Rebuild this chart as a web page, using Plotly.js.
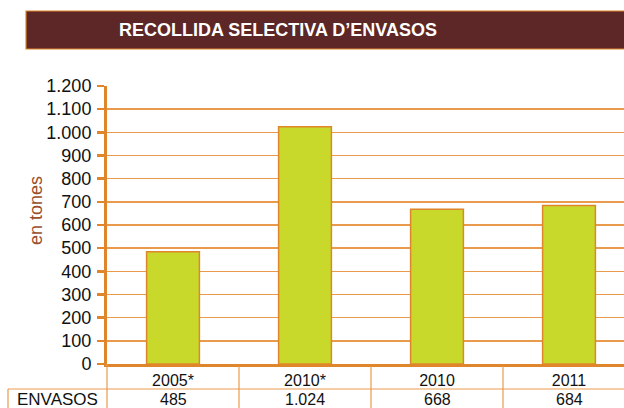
<!DOCTYPE html>
<html>
<head>
<meta charset="utf-8">
<script src="https://cdn.plot.ly/plotly-3.0.1.min.js"></script>
<style>html,body{margin:0;padding:0;background:#fff;}#chart{width:624px;height:408px;}</style>
</head>
<body>
<div id="chart"></div>
<script>
const chartTitle = "RECOLLIDA SELECTIVA D’ENVASOS";
const categories = ["2005*", "2010*", "2010", "2011"];
const seriesName = "ENVASOS";
const values = [485, 1024, 668, 684];
const yTitle = "en tones";

const orange = "#e0862a";
const gridOrange = "#e99a4c";
const font = "Liberation Sans, Arial, Helvetica, sans-serif";

// plot area in pixels: left 107, right 624 (clipped), top 86, bottom 364
const L = 107, R = 624, T = 86, B = 364, W = R - L, H = B - T;
const px = x => (x - L) / W;
const py = y => (B - y) / H;

function fmt(v) {
  return String(v).replace(/\B(?=(\d{3})+(?!\d))/g, ".");
}

const shapes = [
  // title banner
  {type: "rect", xref: "paper", yref: "paper", x0: px(26), x1: px(640), y0: py(49), y1: py(11),
   fillcolor: "#5c2726", line: {color: orange, width: 1.2}, layer: "above"},
  // table lines
  {type: "line", xref: "paper", yref: "paper", x0: px(8), x1: px(640), y0: py(389), y1: py(389), line: {color: gridOrange, width: 1.2}},
  {type: "line", xref: "paper", yref: "paper", x0: px(8), x1: px(8), y0: py(389), y1: py(420), line: {color: gridOrange, width: 1.2}},
  {type: "line", xref: "paper", yref: "paper", x0: 0, x1: 0, y0: 0, y1: py(420), line: {color: gridOrange, width: 1.2}}
];
for (let i = 0; i < categories.length - 1; i++) {
  shapes.push({type: "line", xref: "x", yref: "paper", x0: i + 0.5, x1: i + 0.5, y0: py(366), y1: py(420),
    line: {color: gridOrange, width: 1.2}});
}

const annotations = [
  {text: "<b>" + chartTitle + "</b>", xref: "paper", yref: "paper", x: px(278), y: py(30),
   showarrow: false, font: {family: font, size: 18, color: "#ffffff"}, xanchor: "center", yanchor: "middle"},
  {text: yTitle, xref: "paper", yref: "paper", x: px(36), y: py(211), textangle: -90,
   showarrow: false, font: {family: font, size: 18, color: "#9a4e2a"}, xanchor: "center", yanchor: "middle"},
  {text: seriesName, xref: "paper", yref: "paper", x: px(57), y: py(399),
   showarrow: false, font: {family: font, size: 17, color: "#111"}, xanchor: "center", yanchor: "middle"}
];
values.forEach((v, i) => {
  annotations.push({text: fmt(v), xref: "x", yref: "paper", x: i, y: py(399), showarrow: false,
    font: {family: font, size: 16, color: "#111"}, xanchor: "center", yanchor: "middle"});
});

const trace = {
  type: "bar",
  x: [0, 1, 2, 3],
  y: values,
  width: 0.4,
  marker: {color: "#c8d92b", line: {color: orange, width: 1.5}},
  hoverinfo: "skip"
};

const layout = {
  width: 624, height: 408,
  margin: {l: L, r: 0, t: T, b: 408 - B, pad: 0},
  paper_bgcolor: "#fff", plot_bgcolor: "#fff",
  separators: ",.",
  showlegend: false,
  font: {family: font, size: 16, color: "#111"},
  xaxis: {
    range: [-0.5, -0.5 + W / 132],
    tickmode: "array", tickvals: [0, 1, 2, 3], ticktext: categories,
    showgrid: false, zeroline: false, ticks: "",
    showline: true, linecolor: orange, linewidth: 3,
    tickfont: {family: font, size: 16, color: "#111"}, fixedrange: true
  },
  yaxis: {
    range: [0, 1200], dtick: 100, tick0: 0,
    separatethousands: true,
    showgrid: true, gridcolor: gridOrange, gridwidth: 1.5,
    zeroline: false,
    showline: true, linecolor: orange, linewidth: 3, mirror: false,
    ticks: "outside", ticklen: 7, tickwidth: 2.5, tickcolor: orange,
    ticklabelstandoff: 2,
    tickfont: {family: font, size: 18, color: "#111"},
    fixedrange: true
  },
  shapes: shapes,
  annotations: annotations
};

Plotly.newPlot("chart", [trace], layout, {displayModeBar: false, staticPlot: true});
</script>
</body>
</html>
